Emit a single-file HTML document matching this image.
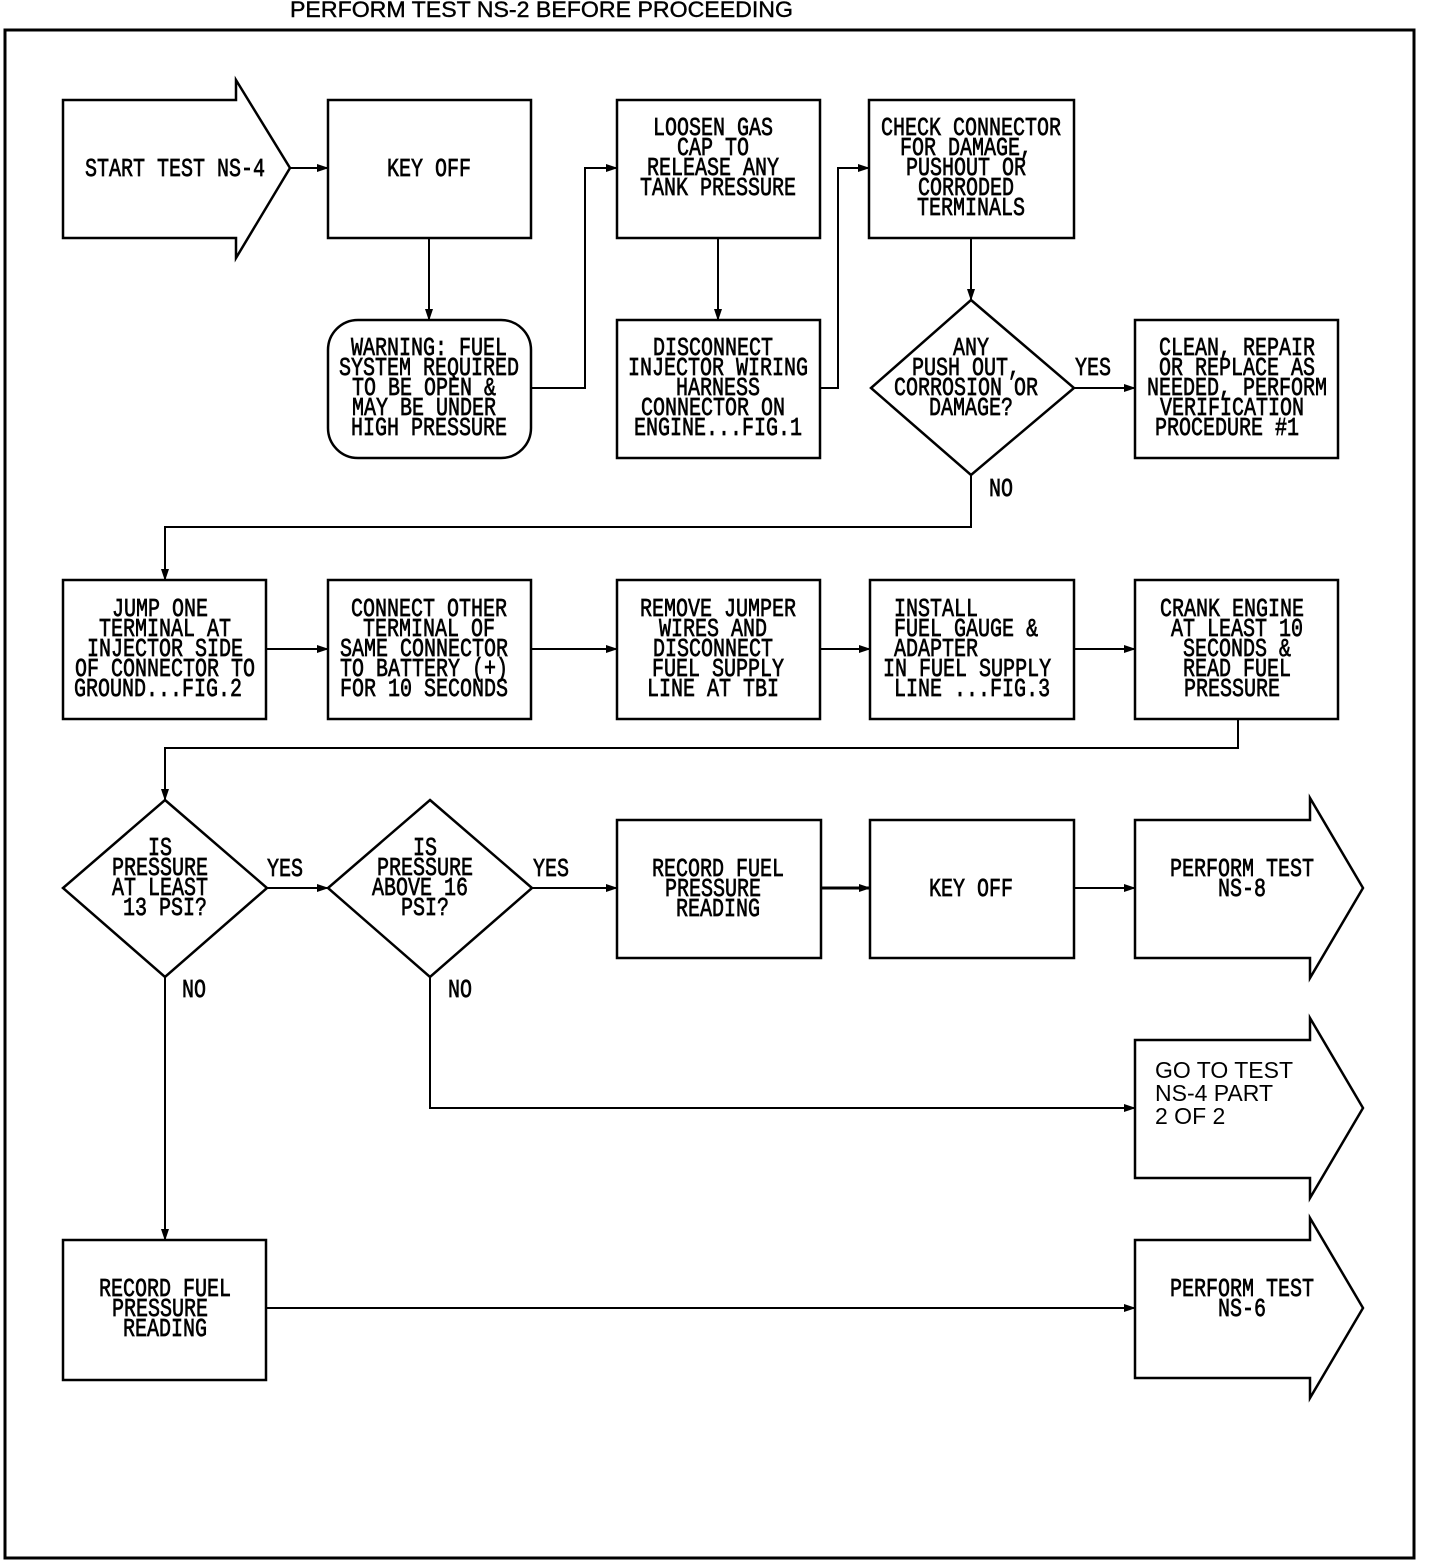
<!DOCTYPE html>
<html><head><meta charset="utf-8"><style>
html,body{margin:0;padding:0;background:#fff}
svg{display:block}
.t{font-family:"Liberation Mono",monospace;font-size:26px;fill:#000;stroke:#000;stroke-width:0.7}
.s{fill:none;stroke:#000;stroke-width:2.5}
.l{fill:none;stroke:#000;stroke-width:2}
</style></head><body>
<svg width="1440" height="1562" viewBox="0 0 1440 1562" xmlns="http://www.w3.org/2000/svg">
<defs><marker id="a" markerWidth="12" markerHeight="10" refX="11" refY="5" orient="auto" markerUnits="userSpaceOnUse"><path d="M0,1 L12,5 L0,9 Z" fill="#000"/></marker></defs>
<text x="290" y="17" font-family="Liberation Sans,sans-serif" font-size="22" textLength="503" lengthAdjust="spacingAndGlyphs" stroke="#000" stroke-width="0.4">PERFORM TEST NS-2 BEFORE PROCEEDING</text>
<rect x="5" y="30" width="1409" height="1528" fill="none" stroke="#000" stroke-width="3"/>

<path class="s" d="M63,100 H236 V80 L290,168 L236,258 V238 H63 Z"/>
<rect class="s" x="328" y="100" width="203" height="138"/>
<rect class="s" x="328" y="320" width="203" height="138" rx="30"/>
<rect class="s" x="617" y="100" width="203" height="138"/>
<rect class="s" x="617" y="320" width="203" height="138"/>
<rect class="s" x="869" y="100" width="205" height="138"/>
<path class="s" d="M971,300 L1074,388 L971,475 L871,388 Z"/>
<rect class="s" x="1135" y="320" width="203" height="138"/>

<rect class="s" x="63" y="580" width="203" height="139"/>
<rect class="s" x="328" y="580" width="203" height="139"/>
<rect class="s" x="617" y="580" width="203" height="139"/>
<rect class="s" x="870" y="580" width="204" height="139"/>
<rect class="s" x="1135" y="580" width="203" height="139"/>

<path class="s" d="M165,800 L267,888 L165,977 L63,888 Z"/>
<path class="s" d="M430,800 L532,888 L430,977 L328,888 Z"/>
<rect class="s" x="617" y="820" width="204" height="138"/>
<rect class="s" x="870" y="820" width="204" height="138"/>
<path class="s" d="M1135,820 H1310 V798 L1363,888 L1310,978 V958 H1135 Z"/>
<path class="s" d="M1135,1040 H1310 V1018 L1363,1108 L1310,1198 V1178 H1135 Z"/>
<rect class="s" x="63" y="1240" width="203" height="140"/>
<path class="s" d="M1135,1240 H1310 V1218 L1363,1308 L1310,1398 V1378 H1135 Z"/>

<g class="l">
<path d="M290,168 H328" marker-end="url(#a)"/>
<path d="M429,238 V320" marker-end="url(#a)"/>
<path d="M531,388 H585 V168 H617" marker-end="url(#a)"/>
<path d="M718,238 V320" marker-end="url(#a)"/>
<path d="M820,388 H838 V168 H869" marker-end="url(#a)"/>
<path d="M971,238 V300" marker-end="url(#a)"/>
<path d="M1074,388 H1135" marker-end="url(#a)"/>
<path d="M971,475 V527 H165 V580" marker-end="url(#a)"/>
<path d="M266,649 H328" marker-end="url(#a)"/>
<path d="M531,649 H617" marker-end="url(#a)"/>
<path d="M820,649 H870" marker-end="url(#a)"/>
<path d="M1074,649 H1135" marker-end="url(#a)"/>
<path d="M1238,719 V748 H165 V800" marker-end="url(#a)"/>
<path d="M267,888 H328" marker-end="url(#a)"/>
<path d="M532,888 H617" marker-end="url(#a)"/>
<path d="M821,888 H870" marker-end="url(#a)" stroke-width="3"/>
<path d="M1074,888 H1135" marker-end="url(#a)"/>
<path d="M430,977 V1108 H1135" marker-end="url(#a)"/>
<path d="M165,977 V1240" marker-end="url(#a)"/>
<path d="M266,1308 H1135" marker-end="url(#a)"/>
</g>

<g class="t" text-anchor="middle">
<text transform="translate(175 176) scale(.77 1)">START TEST NS-4</text>
<text transform="translate(429 176) scale(.77 1)">KEY OFF</text>
<text transform="translate(429 355) scale(.77 1)">WARNING: FUEL</text>
<text transform="translate(429 375) scale(.77 1)">SYSTEM REQUIRED</text>
<text transform="translate(424 395) scale(.77 1)">TO BE OPEN &amp;</text>
<text transform="translate(424 415) scale(.77 1)">MAY BE UNDER</text>
<text transform="translate(429 435) scale(.77 1)">HIGH PRESSURE</text>
<text transform="translate(713 135) scale(.77 1)">LOOSEN GAS</text>
<text transform="translate(713 155) scale(.77 1)">CAP TO</text>
<text transform="translate(713 175) scale(.77 1)">RELEASE ANY</text>
<text transform="translate(718 195) scale(.77 1)">TANK PRESSURE</text>
<text transform="translate(713 355) scale(.77 1)">DISCONNECT</text>
<text transform="translate(718 375) scale(.77 1)">INJECTOR WIRING</text>
<text transform="translate(718 395) scale(.77 1)">HARNESS</text>
<text transform="translate(713 415) scale(.77 1)">CONNECTOR ON</text>
<text transform="translate(718 435) scale(.77 1)">ENGINE...FIG.1</text>
<text transform="translate(971 135) scale(.77 1)">CHECK CONNECTOR</text>
<text transform="translate(966 155) scale(.77 1)">FOR DAMAGE,</text>
<text transform="translate(966 175) scale(.77 1)">PUSHOUT OR</text>
<text transform="translate(966 195) scale(.77 1)">CORRODED</text>
<text transform="translate(971 215) scale(.77 1)">TERMINALS</text>
<text transform="translate(971 355) scale(.77 1)">ANY</text>
<text transform="translate(966 375) scale(.77 1)">PUSH OUT,</text>
<text transform="translate(966 395) scale(.77 1)">CORROSION OR</text>
<text transform="translate(971 415) scale(.77 1)">DAMAGE?</text>
<text transform="translate(1237 355) scale(.77 1)">CLEAN, REPAIR</text>
<text transform="translate(1237 375) scale(.77 1)">OR REPLACE AS</text>
<text transform="translate(1237 395) scale(.77 1)">NEEDED, PERFORM</text>
<text transform="translate(1232 415) scale(.77 1)">VERIFICATION</text>
<text transform="translate(1227 435) scale(.77 1)">PROCEDURE #1</text>

<text transform="translate(160 616) scale(.77 1)">JUMP ONE</text>
<text transform="translate(165 636) scale(.77 1)">TERMINAL AT</text>
<text transform="translate(165 656) scale(.77 1)">INJECTOR SIDE</text>
<text transform="translate(165 676) scale(.77 1)">OF CONNECTOR TO</text>
<text transform="translate(158 696) scale(.77 1)">GROUND...FIG.2</text>
<text transform="translate(429 616) scale(.77 1)">CONNECT OTHER</text>
<text transform="translate(429 636) scale(.77 1)">TERMINAL OF</text>
<text transform="translate(424 656) scale(.77 1)">SAME CONNECTOR</text>
<text transform="translate(424 676) scale(.77 1)">TO BATTERY (+)</text>
<text transform="translate(424 696) scale(.77 1)">FOR 10 SECONDS</text>
<text transform="translate(718 616) scale(.77 1)">REMOVE JUMPER</text>
<text transform="translate(713 636) scale(.77 1)">WIRES AND</text>
<text transform="translate(713 656) scale(.77 1)">DISCONNECT</text>
<text transform="translate(718 676) scale(.77 1)">FUEL SUPPLY</text>
<text transform="translate(713 696) scale(.77 1)">LINE AT TBI</text>
<text transform="translate(1232 616) scale(.77 1)">CRANK ENGINE</text>
<text transform="translate(1237 636) scale(.77 1)">AT LEAST 10</text>
<text transform="translate(1237 656) scale(.77 1)">SECONDS &amp;</text>
<text transform="translate(1237 676) scale(.77 1)">READ FUEL</text>
<text transform="translate(1232 696) scale(.77 1)">PRESSURE</text>

<text transform="translate(160 855) scale(.77 1)">IS</text>
<text transform="translate(160 875) scale(.77 1)">PRESSURE</text>
<text transform="translate(160 895) scale(.77 1)">AT LEAST</text>
<text transform="translate(165 915) scale(.77 1)">13 PSI?</text>
<text transform="translate(425 855) scale(.77 1)">IS</text>
<text transform="translate(425 875) scale(.77 1)">PRESSURE</text>
<text transform="translate(420 895) scale(.77 1)">ABOVE 16</text>
<text transform="translate(425 915) scale(.77 1)">PSI?</text>
<text transform="translate(718 876) scale(.77 1)">RECORD FUEL</text>
<text transform="translate(713 896) scale(.77 1)">PRESSURE</text>
<text transform="translate(718 916) scale(.77 1)">READING</text>
<text transform="translate(971 896) scale(.77 1)">KEY OFF</text>
<text transform="translate(1242 876) scale(.77 1)">PERFORM TEST</text>
<text transform="translate(1242 896) scale(.77 1)">NS-8</text>
<text transform="translate(165 1296) scale(.77 1)">RECORD FUEL</text>
<text transform="translate(160 1316) scale(.77 1)">PRESSURE</text>
<text transform="translate(165 1336) scale(.77 1)">READING</text>
<text transform="translate(1242 1296) scale(.77 1)">PERFORM TEST</text>
<text transform="translate(1242 1316) scale(.77 1)">NS-6</text>
</g>
<g class="t">
<text transform="translate(894 616) scale(.77 1)">INSTALL</text>
<text transform="translate(894 636) scale(.77 1)">FUEL GAUGE &amp;</text>
<text transform="translate(894 656) scale(.77 1)">ADAPTER</text>
<text transform="translate(883 676) scale(.77 1)">IN FUEL SUPPLY</text>
<text transform="translate(894 696) scale(.77 1)">LINE ...FIG.3</text>
<text transform="translate(1075 375) scale(.77 1)">YES</text>
<text transform="translate(989 496) scale(.77 1)">NO</text>
<text transform="translate(267 876) scale(.77 1)">YES</text>
<text transform="translate(533 876) scale(.77 1)">YES</text>
<text transform="translate(182 997) scale(.77 1)">NO</text>
<text transform="translate(448 997) scale(.77 1)">NO</text>
</g>
<g font-family="Liberation Sans,sans-serif" font-size="23">
<text x="1155" y="1078">GO TO TEST</text>
<text x="1155" y="1101">NS-4 PART</text>
<text x="1155" y="1124">2 OF 2</text>
</g>
</svg>
</body></html>
